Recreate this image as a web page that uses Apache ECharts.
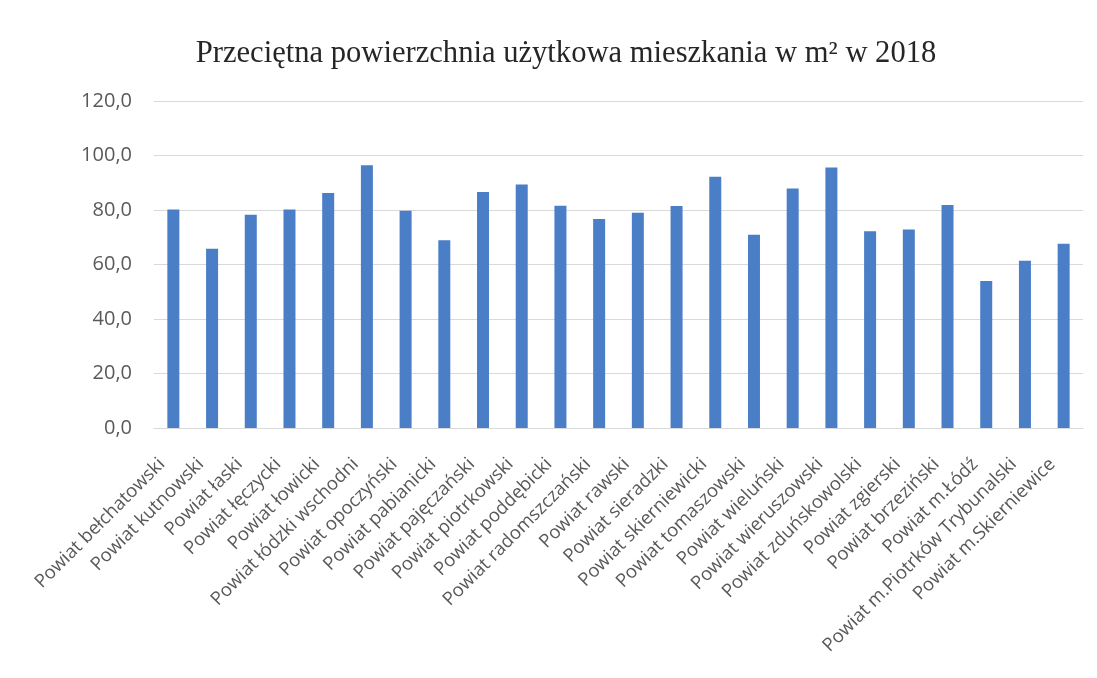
<!DOCTYPE html>
<html>
<head>
<meta charset="utf-8">
<script src="https://cdn.jsdelivr.net/npm/echarts@6/dist/echarts.min.js"></script>
<style>
  html, body { margin: 0; padding: 0; background: #fff; }
  #container { width: 1097px; height: 678px; }
</style>
</head>
<body>
<div id="container"></div>
<script>
var chartTitle = 'Przeciętna powierzchnia użytkowa mieszkania w m² w 2018'
var categories = [
    'Powiat bełchatowski', 'Powiat kutnowski', 'Powiat łaski', 'Powiat łęczycki',
    'Powiat łowicki', 'Powiat łódzki wschodni', 'Powiat opoczyński', 'Powiat pabianicki',
    'Powiat pajęczański', 'Powiat piotrkowski', 'Powiat poddębicki', 'Powiat radomszczański',
    'Powiat rawski', 'Powiat sieradzki', 'Powiat skierniewicki', 'Powiat tomaszowski',
    'Powiat wieluński', 'Powiat wieruszowski', 'Powiat zduńskowolski', 'Powiat zgierski',
    'Powiat brzeziński', 'Powiat m.Łódź', 'Powiat m.Piotrków Trybunalski', 'Powiat m.Skierniewice'
]
var values = [
    80.2, 65.8, 78.3, 80.2,
    86.2, 96.4, 79.7, 68.9,
    86.6, 89.4, 81.6, 76.7,
    79.0, 81.5, 92.2, 70.9,
    87.9, 95.6, 72.2, 72.8,
    81.8, 53.9, 61.4, 67.6
]
var yTicks = [0, 20, 40, 60, 80, 100, 120]

var dom = document.getElementById('container')
var myChart = echarts.init(dom)

var option = {
    backgroundColor: '#ffffff',
    animation: false,
    title: {
        text: chartTitle,
        left: 561,
        textAlign: 'center',
        top: 33,
        textStyle: {
            fontFamily: 'Liberation Serif',
            fontWeight: 'normal',
            fontSize: 30.6,
            color: '#262626'
        }
    },
    grid: {
        left: 154,
        right: 14,
        top: 101,
        bottom: 250
    },
    xAxis: {
        type: 'category',
        data: categories,
        axisLine: { lineStyle: { color: '#d9d9d9' } },
        axisTick: { show: false },
        axisLabel: {
            interval: 0,
            rotate: 45,
            margin: 22,
            padding: [0, 16, 0, 0],
            fontFamily: 'Open Sans',
            fontSize: 18.5,
            color: '#595959'
        }
    },
    yAxis: {
        type: 'value',
        min: yTicks[0],
        max: yTicks[yTicks.length - 1],
        interval: 20,
        axisLine: { show: false },
        axisTick: { show: false },
        splitLine: { lineStyle: { color: '#d9d9d9' } },
        axisLabel: {
            margin: 22,
            fontFamily: 'Open Sans',
            fontSize: 20,
            color: '#595959',
            formatter: function (v) { return v.toFixed(1).replace('.', ',') }
        }
    },
    series: [{
        type: 'bar',
        data: values,
        barWidth: 12,
        itemStyle: { color: '#4a7ec6' }
    }]
}
myChart.setOption(option)
</script>
</body>
</html>
